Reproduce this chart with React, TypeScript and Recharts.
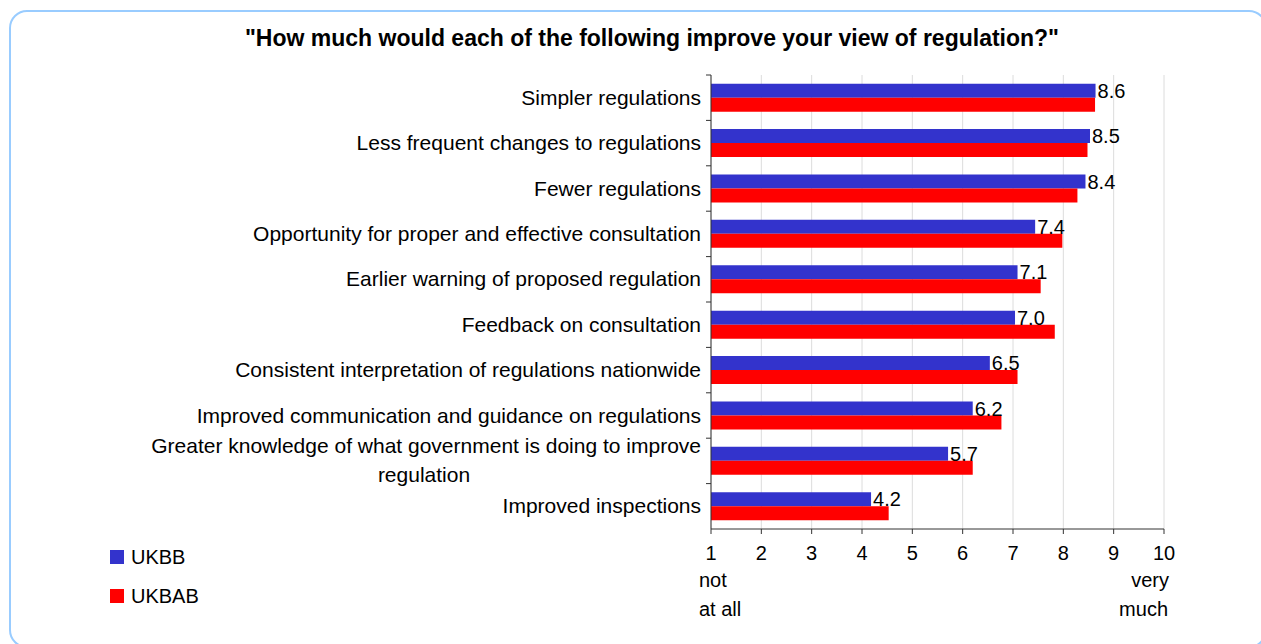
import React from "react";
import {
  BarChart,
  Bar,
  XAxis,
  YAxis,
  CartesianGrid,
  LabelList,
} from "recharts";

const categories = [
  "Simpler regulations",
  "Less frequent changes to regulations",
  "Fewer regulations",
  "Opportunity for proper and effective consultation",
  "Earlier warning of proposed regulation",
  "Feedback on consultation",
  "Consistent interpretation of regulations nationwide",
  "Improved communication and guidance on regulations",
  "Greater knowledge of what government is doing to improve|regulation",
  "Improved inspections",
];

const ukbb = [8.64, 8.53, 8.44, 7.44, 7.09, 7.04, 6.54, 6.2, 5.71, 4.18];
const ukbab = [8.63, 8.48, 8.28, 7.98, 7.55, 7.83, 7.09, 6.77, 6.2, 4.53];

const xTicks = [1, 2, 3, 4, 5, 6, 7, 8, 9, 10];

const data = categories.map((name, i) => ({
  name,
  UKBB: ukbb[i],
  UKBAB: ukbab[i],
}));

const FONT = "'Liberation Sans', Arial, sans-serif";
const BLUE = "#3333cc";
const RED = "#ff0000";
const FS = 21;
const TICK_MARGIN = 4;
const TICK_SIZE = 6;

const CategoryTick = (props: any) => {
  const { x, y, payload } = props;
  const half = payload && payload.offset ? payload.offset : 22.7;
  const axisX = x + TICK_MARGIN + TICK_SIZE;
  const lines: string[] = String(payload.value).split("|");
  return (
    <g>
      <line x1={axisX - 5} x2={axisX} y1={y - half} y2={y - half} stroke="#333" />
      {lines.length === 1 ? (
        <text x={x} y={y} dy={7} textAnchor="end" fontSize={FS} fill="#000" fontFamily={FONT}>
          {lines[0]}
        </text>
      ) : (
        <>
          <text x={x} y={y} dy={-8} textAnchor="end" fontSize={FS} fill="#000" fontFamily={FONT}>
            {lines[0]}
          </text>
          <text x={x - 277} y={y} dy={21} textAnchor="middle" fontSize={FS} fill="#000" fontFamily={FONT}>
            {lines[1]}
          </text>
        </>
      )}
    </g>
  );
};

const ValueTick = (props: any) => {
  const { x, y, payload } = props;
  const v = payload.value;
  return (
    <g>
      <text x={x} y={y} dy={24} textAnchor="middle" fontSize={20} fill="#000" fontFamily={FONT}>
        {v}
      </text>
      {v === 1 && (
        <>
          <text x={x - 12} y={y} dy={51} textAnchor="start" fontSize={20} fill="#000" fontFamily={FONT}>
            not
          </text>
          <text x={x - 12} y={y} dy={80} textAnchor="start" fontSize={20} fill="#000" fontFamily={FONT}>
            at all
          </text>
        </>
      )}
      {v === 10 && (
        <>
          <text x={x + 5} y={y} dy={51} textAnchor="end" fontSize={20} fill="#000" fontFamily={FONT}>
            very
          </text>
          <text x={x + 4} y={y} dy={80} textAnchor="end" fontSize={20} fill="#000" fontFamily={FONT}>
            much
          </text>
        </>
      )}
    </g>
  );
};

const legendItems = [
  { name: "UKBB", color: BLUE, top: 550 },
  { name: "UKBAB", color: RED, top: 589 },
];

export default function App() {
  return (
    <div
      style={{
        position: "absolute",
        left: 0,
        top: 0,
        width: 1261,
        height: 644,
        overflow: "hidden",
        background: "#fff",
      }}
    >
      <div
        style={{
          position: "absolute",
          left: 9,
          top: 10,
          width: 1254,
          height: 634,
          border: "2px solid #99ccff",
          borderRadius: 18,
        }}
      />
      <div
        style={{
          position: "absolute",
          left: 0,
          top: 25,
          width: 1304,
          textAlign: "center",
          fontFamily: FONT,
          fontWeight: "bold",
          fontSize: 23,
          lineHeight: "26px",
          color: "#000",
        }}
      >
        "How much would each of the following improve your view of regulation?"
      </div>
      <div style={{ position: "absolute", left: 0, top: 0 }}>
        <BarChart
          width={1261}
          height={644}
          data={data}
          layout="vertical"
          margin={{ top: 75, right: 97, bottom: 0, left: 0 }}
          barCategoryGap="19%"
          barGap={0}
        >
          <CartesianGrid horizontal={false} stroke="#dcdcdc" />
          <XAxis
            type="number"
            domain={[1, 10]}
            ticks={xTicks}
            interval={0}
            height={115}
            stroke="#333"
            tickSize={5}
            tick={<ValueTick />}
          />
          <YAxis
            type="category"
            dataKey="name"
            width={711}
            stroke="#333"
            tickLine={false}
            tickSize={TICK_SIZE}
            tickMargin={TICK_MARGIN}
            interval={0}
            tick={<CategoryTick />}
          />
          <Bar dataKey="UKBB" fill={BLUE} isAnimationActive={false}>
            <LabelList
              dataKey="UKBB"
              position="right"
              offset={2}
              fontSize={20}
              fill="#000"
              fontFamily={FONT}
              formatter={(v: any) => Number(v).toFixed(1)}
            />
          </Bar>
          <Bar dataKey="UKBAB" fill={RED} isAnimationActive={false} />
        </BarChart>
      </div>
      {legendItems.map((it) => (
        <div
          key={it.name}
          style={{
            position: "absolute",
            left: 110,
            top: it.top - 5,
            height: 24,
            display: "flex",
            alignItems: "center",
            fontFamily: FONT,
            fontSize: 20,
            color: "#000",
          }}
        >
          <span
            style={{
              display: "inline-block",
              width: 14,
              height: 14,
              background: it.color,
              marginRight: 7,
            }}
          />
          {it.name}
        </div>
      ))}
    </div>
  );
}
